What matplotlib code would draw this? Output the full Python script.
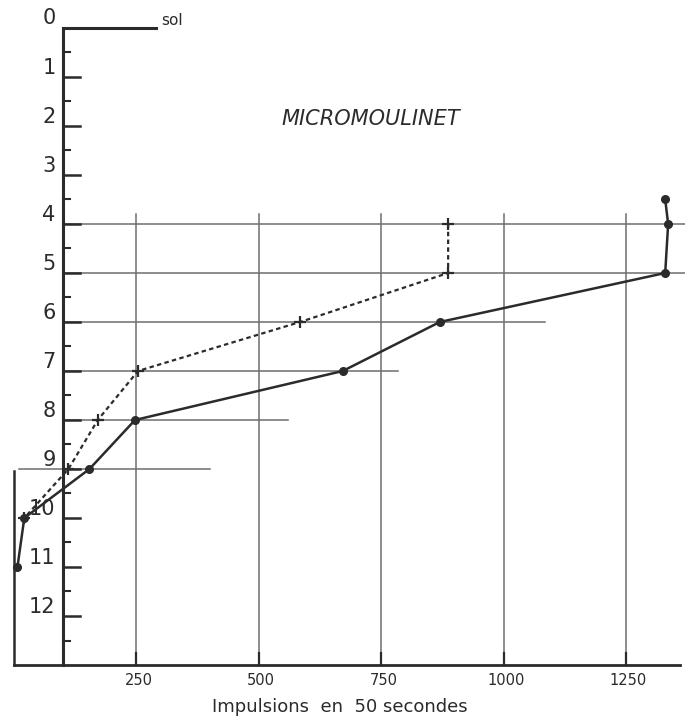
import matplotlib
matplotlib.use("Agg")
import matplotlib.pyplot as plt
import numpy as np

# ---- data ----
depth_solid = [3.5, 4, 5, 6, 7, 8, 9, 10, 11]
imp_solid = [1330, 1336, 1330, 870, 672, 248, 155, 22, 8]

depth_dotted = [4, 5, 6, 7, 8, 9, 10]
imp_dotted = [887, 887, 585, 254, 172, 112, 22]

depth_ticks = list(range(0, 13))
x_ticks = [250, 500, 750, 1000, 1250]

# horizontal reference lines: (depth, x start, x end)
hlines_depth = [4, 5, 6, 7, 8, 9]
hlines_start = [100, 100, 100, 100, 100, 12]
hlines_end = [1370, 1370, 1085, 785, 560, 400]

axis_x = 100
bottom = 13

fig = plt.figure(figsize=(6.85, 7.24), dpi=100)
ax = fig.add_axes([0, 0, 1, 1])
ax.set_xlim(-27.6, 1370.4)
ax.set_ylim(14.204, -0.571)
ax.axis("off")

ink = "#2b2b2b"
grid = "#6e6e6e"

# horizontal reference lines
for d, s, e in zip(hlines_depth, hlines_start, hlines_end):
    ax.plot([s, e], [d, d], color=grid, lw=1.1, zorder=1)

# vertical reference lines
for xt in x_ticks:
    ax.plot([xt, xt], [3.8, 12.75], color=grid, lw=1.1, zorder=1)
    ax.plot([xt, xt], [bottom - 0.25, bottom], color=ink, lw=1.6, zorder=2)

# bottom axis and left frame
ax.plot([0, 1360], [bottom, bottom], color=ink, lw=2.0, zorder=2)
ax.plot([0, 0], [9.05, bottom], color=ink, lw=1.8, zorder=2)

# depth axis
ax.plot([axis_x, axis_x], [0, bottom], color=ink, lw=2.2, zorder=2)
ax.plot([axis_x, 290], [0, 0], color=ink, lw=2.2, zorder=2)
for d in depth_ticks[1:]:
    ax.plot([axis_x, axis_x + 36], [d, d], color=ink, lw=1.8, zorder=2)
for d in np.arange(0.5, 13, 1.0):
    ax.plot([axis_x, axis_x + 16], [d, d], color=ink, lw=1.5, zorder=2)
for d in depth_ticks:
    ax.text(axis_x - 14, d - 0.18 if d else d - 0.2, str(d), ha="right", va="center",
            fontsize=15, color=ink, family="DejaVu Sans")

ax.text(302, -0.15, "sol", ha="left", va="center", fontsize=11, color=ink)

# x tick labels
for xt in x_ticks:
    ax.text(xt + 5, bottom + 0.32, str(xt), ha="center", va="center",
            fontsize=10.5, color=ink)
ax.text(665, 13.85, "Impulsions  en  50 secondes", ha="center", va="center",
        fontsize=13, color=ink)

ax.text(730, 1.85, "MICROMOULINET", ha="center", va="center",
        fontsize=15, style="italic", color=ink)

# data series
ax.plot(imp_solid, depth_solid, color=ink, lw=1.8, marker="o", ms=5.5,
        markerfacecolor=ink, zorder=4)
ax.plot(imp_dotted, depth_dotted, color=ink, lw=1.6, ls=(0, (2, 1.5)),
        marker="+", ms=8, mew=1.6, zorder=4)

fig.savefig("out.png", dpi=100, facecolor="white")
